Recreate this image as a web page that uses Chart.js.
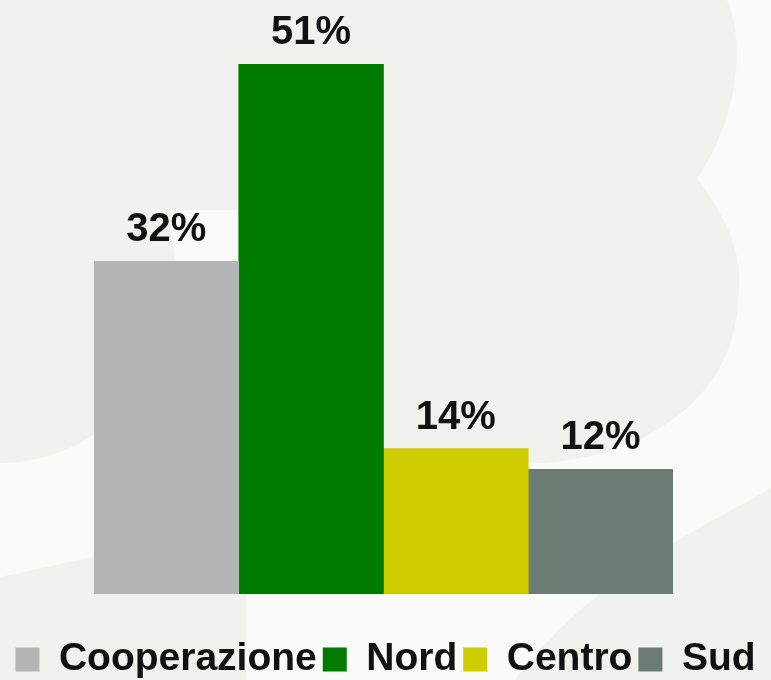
<!DOCTYPE html>
<html>
<head>
<meta charset="utf-8">
<script src="https://cdn.jsdelivr.net/npm/chart.js@4"></script>
<style>
  html, body { margin: 0; padding: 0; background: #f1f1ee; }
  #wrap { width: 771px; height: 680px; position: relative; }
</style>
</head>
<body>
<div id="wrap"><canvas id="c"></canvas></div>
<script>
const categories = [''];
const seriesNames = ['Cooperazione', 'Nord', 'Centro', 'Sud'];
const seriesValues = [32, 51, 14, 12];
const seriesColors = ['#b4b4b4', '#007b00', '#cfcd00', '#6b7c72'];

const FONT = '"Liberation Sans", Arial, sans-serif';

const bgPlugin = {
  id: 'bg',
  beforeDraw(chart) {
    const ctx = chart.ctx;
    ctx.save();
    ctx.fillStyle = '#fafaf8';
    ctx.fillRect(0, 0, chart.width, chart.height);
    ctx.fillStyle = '#f1f1ee';
    // top / left dark shape
    ctx.beginPath();
    ctx.moveTo(0, 0);
    ctx.lineTo(727, 0);
    ctx.bezierCurveTo(742, 30, 745, 110, 697, 178);
    ctx.bezierCurveTo(740, 235, 742, 270, 738, 300);
    ctx.bezierCurveTo(735, 400, 640, 464, 520, 464);
    ctx.lineTo(240, 464);
    ctx.lineTo(240, 210);
    ctx.lineTo(170, 210);
    ctx.lineTo(175, 262);
    ctx.lineTo(170, 293);
    ctx.arc(0, 293, 170, 0, Math.PI / 2);
    ctx.lineTo(0, 0);
    ctx.closePath();
    ctx.fill();
    // bottom-left dark shape
    ctx.beginPath();
    ctx.moveTo(0, 577);
    ctx.quadraticCurveTo(150, 545, 246, 520);
    ctx.lineTo(246, 680);
    ctx.lineTo(0, 680);
    ctx.closePath();
    ctx.fill();
    // bottom-right dark shape
    ctx.beginPath();
    ctx.moveTo(771, 488);
    ctx.bezierCurveTo(700, 530, 600, 570, 515, 680);
    ctx.lineTo(771, 680);
    ctx.closePath();
    ctx.fill();
    ctx.restore();
  }
};

const labelPlugin = {
  id: 'valueLabels',
  afterDatasetsDraw(chart) {
    const ctx = chart.ctx;
    ctx.save();
    ctx.font = 'bold 40px ' + FONT;
    ctx.fillStyle = '#111111';
    ctx.textAlign = 'center';
    ctx.textBaseline = 'alphabetic';
    chart.data.datasets.forEach((ds, i) => {
      const meta = chart.getDatasetMeta(i);
      meta.data.forEach((bar, j) => {
        ctx.fillText(ds.data[j] + '%', bar.x, bar.y - 20);
      });
    });
    ctx.restore();
  }
};

const datasets = seriesNames.map((name, i) => ({
  label: name,
  data: [seriesValues[i]],
  backgroundColor: seriesColors[i],
  borderWidth: 0,
  barPercentage: 1,
  categoryPercentage: 1
}));

const hiddenAxis = (extra) => Object.assign({
  display: true,
  grid: { display: false },
  border: { display: false },
  ticks: { display: false }
}, extra);

new Chart(document.getElementById('c'), {
  type: 'bar',
  data: { labels: categories, datasets },
  plugins: [bgPlugin, labelPlugin],
  options: {
    responsive: true,
    maintainAspectRatio: false,
    animation: false,
    layout: { padding: { left: 0, right: 0, top: 64, bottom: -9 } },
    scales: {
      x: hiddenAxis({ afterFit(scale) { scale.height = 40; } }),
      y: hiddenAxis({ position: 'left', min: 0, max: 51, afterFit(scale) { scale.width = 94; } }),
      y2: hiddenAxis({ position: 'right', min: 0, max: 51, afterFit(scale) { scale.width = 98; } })
    },
    plugins: {
      tooltip: { enabled: false },
      legend: {
        position: 'bottom',
        labels: {
          boxWidth: 24,
          boxHeight: 24,
          padding: 6,
          color: '#111111',
          font: { family: FONT, size: 39, weight: 'bold' }
        }
      }
    }
  }
});
</script>
</body>
</html>
